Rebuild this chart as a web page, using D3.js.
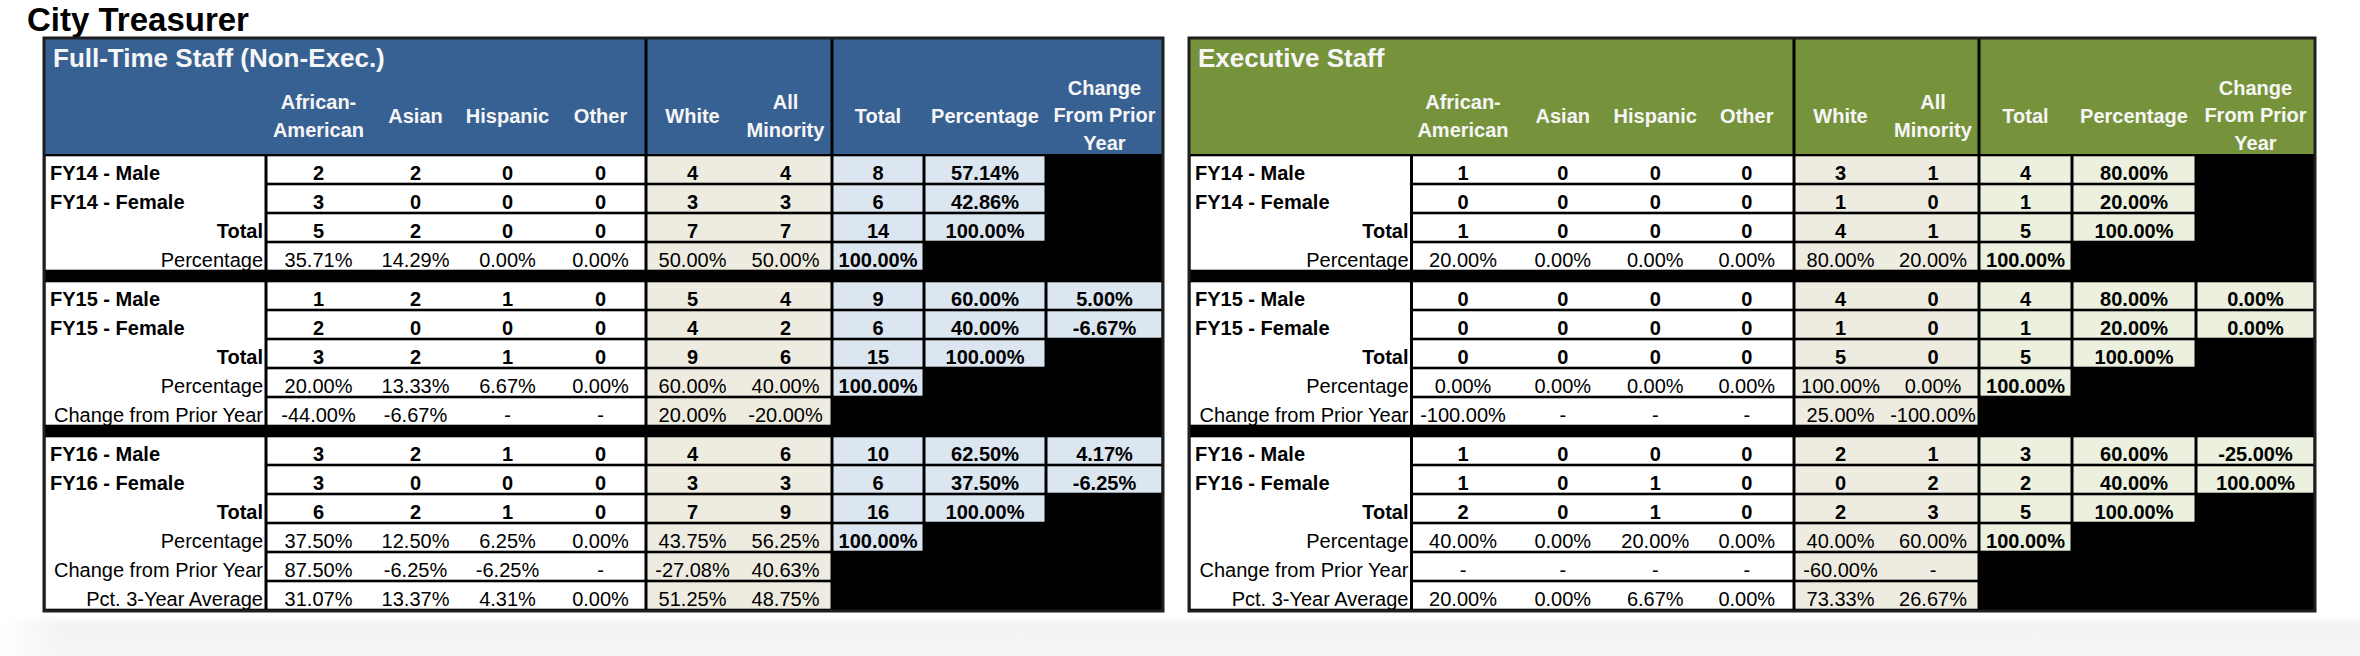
<!DOCTYPE html>
<html><head><meta charset="utf-8">
<script src="https://cdn.jsdelivr.net/npm/d3@7"></script>
<style>
html,body{margin:0;padding:0;background:#fff}
svg{display:block;font-family:"Liberation Sans",Arial,Helvetica,sans-serif}
</style>
</head><body>
<svg id="chart" width="2360" height="656"></svg>
<script>
// ---------- DATA ----------
const pageTitle = "City Treasurer";
const tableTitles = ["Full-Time Staff (Non-Exec.)", "Executive Staff"];
const columnHeaders = [["African-","American"],["Asian"],["Hispanic"],["Other"],["White"],["All","Minority"],["Total"],["Percentage"],["Change","From Prior","Year"]];
const columnSegments = [0,0,0,0,1,1,2,3,4];
const rowLabels = ["FY14 - Male","FY14 - Female","Total","Percentage",
  "FY15 - Male","FY15 - Female","Total","Percentage","Change from Prior Year",
  "FY16 - Male","FY16 - Female","Total","Percentage","Change from Prior Year","Pct. 3-Year Average"];
const rowGroups = [0,0,0,0,1,1,1,1,1,2,2,2,2,2,2];
const rowKinds = ["count","count","total","pct","count","count","total","pct","change","count","count","total","pct","change","avg"];

const fullTimeValues = [
  ["2","2","0","0","4","4","8","57.14%",""],
  ["3","0","0","0","3","3","6","42.86%",""],
  ["5","2","0","0","7","7","14","100.00%",""],
  ["35.71%","14.29%","0.00%","0.00%","50.00%","50.00%","100.00%","",""],
  ["1","2","1","0","5","4","9","60.00%","5.00%"],
  ["2","0","0","0","4","2","6","40.00%","-6.67%"],
  ["3","2","1","0","9","6","15","100.00%",""],
  ["20.00%","13.33%","6.67%","0.00%","60.00%","40.00%","100.00%","",""],
  ["-44.00%","-6.67%","-","-","20.00%","-20.00%","","",""],
  ["3","2","1","0","4","6","10","62.50%","4.17%"],
  ["3","0","0","0","3","3","6","37.50%","-6.25%"],
  ["6","2","1","0","7","9","16","100.00%",""],
  ["37.50%","12.50%","6.25%","0.00%","43.75%","56.25%","100.00%","",""],
  ["87.50%","-6.25%","-6.25%","-","-27.08%","40.63%","","",""],
  ["31.07%","13.37%","4.31%","0.00%","51.25%","48.75%","","",""]
];
const executiveValues = [
  ["1","0","0","0","3","1","4","80.00%",""],
  ["0","0","0","0","1","0","1","20.00%",""],
  ["1","0","0","0","4","1","5","100.00%",""],
  ["20.00%","0.00%","0.00%","0.00%","80.00%","20.00%","100.00%","",""],
  ["0","0","0","0","4","0","4","80.00%","0.00%"],
  ["0","0","0","0","1","0","1","20.00%","0.00%"],
  ["0","0","0","0","5","0","5","100.00%",""],
  ["0.00%","0.00%","0.00%","0.00%","100.00%","0.00%","100.00%","",""],
  ["-100.00%","-","-","-","25.00%","-100.00%","","",""],
  ["1","0","0","0","2","1","3","60.00%","-25.00%"],
  ["1","0","1","0","0","2","2","40.00%","100.00%"],
  ["2","0","1","0","2","3","5","100.00%",""],
  ["40.00%","0.00%","20.00%","0.00%","40.00%","60.00%","100.00%","",""],
  ["-","-","-","-","-60.00%","-","","",""],
  ["20.00%","0.00%","6.67%","0.00%","73.33%","26.67%","","",""]
];

// ---------- LAYOUT / STYLE ----------
const tables = [
  {title: tableTitles[0], values: fullTimeValues, x0: 44,
   widths: [222,105,89,95,91,93,93,92,122,117],
   header: "#386193", light: "#DCE6F1"},
  {title: tableTitles[1], values: executiveValues, x0: 1189,
   widths: [222.5,103,96.5,88.5,94.5,93,92,93,124,119],
   header: "#76933C", light: "#EBF1DE"}
];
const segFill = (t, s) => s === 0 ? "#FFFFFF" : s === 1 ? "#EEECE1" : t.light;

const tableTop = 38, headerBottom = 154, bodyBottom = 610;
const sepUnits = 10 / 29;
const rowPos = i => i + rowGroups[i] * sepUnits;
const y = d3.scaleLinear().domain([0, rowLabels.length + 2 * sepUnits]).range([headerBottom + 1, bodyBottom]);

const svg = d3.select("#chart");

// bottom shadow band
const defs = svg.append("defs");
const g1 = defs.append("linearGradient").attr("id","band").attr("x1",0).attr("y1",0).attr("x2",0).attr("y2",1);
g1.append("stop").attr("offset","0%").attr("stop-color","#ffffff");
g1.append("stop").attr("offset","25%").attr("stop-color","#f3f3f3");
g1.append("stop").attr("offset","100%").attr("stop-color","#f5f5f5");
const g2 = defs.append("linearGradient").attr("id","bandL").attr("x1",0).attr("y1",0).attr("x2",1).attr("y2",0);
g2.append("stop").attr("offset","0%").attr("stop-color","#ffffff").attr("stop-opacity",1);
g2.append("stop").attr("offset","100%").attr("stop-color","#ffffff").attr("stop-opacity",0);
svg.append("rect").attr("x",0).attr("y",614).attr("width",2360).attr("height",42).attr("fill","url(#band)");
svg.append("rect").attr("x",0).attr("y",614).attr("width",60).attr("height",42).attr("fill","url(#bandL)");

svg.append("text").attr("x",27).attr("y",31).attr("font-size",33).attr("font-weight","bold")
  .attr("fill","#000").text(pageTitle);

tables.forEach(t => {
  const starts = Array.from(d3.cumsum([0, ...t.widths]), v => t.x0 + v);
  const W = d3.sum(t.widths);
  const colIdx = d3.range(columnHeaders.length);
  const xL = d3.scaleOrdinal(colIdx, colIdx.map(c => starts[c + 1]));
  const xR = d3.scaleOrdinal(colIdx, colIdx.map(c => starts[c + 2]));
  const xC = c => (xL(c) + xR(c)) / 2;
  const g = svg.append("g");

  // header
  g.append("rect").attr("x",t.x0).attr("y",tableTop).attr("width",W).attr("height",headerBottom-tableTop).attr("fill",t.header);
  // body black background
  g.append("rect").attr("x",t.x0).attr("y",headerBottom).attr("width",W).attr("height",bodyBottom-headerBottom+1).attr("fill","#000");
  // header vertical separators
  [4, 6].forEach(c => {
    g.append("rect").attr("x", xL(c) - 1.5).attr("y", tableTop).attr("width", 3).attr("height", headerBottom - tableTop).attr("fill", "#000");
  });
  // header title
  g.append("text").attr("x", t.x0 + 9).attr("y", 67).attr("font-size", 26).attr("font-weight","bold")
    .attr("fill","#f6f6f6").text(t.title);
  // column headers
  const baseByLines = {1:[123],2:[109,137],3:[95,122,150]};
  columnHeaders.forEach((lines, c) => {
    lines.forEach((ln, k) => {
      g.append("text").attr("x", xC(c)).attr("y", baseByLines[lines.length][k]).attr("text-anchor","middle")
        .attr("font-size",20).attr("font-weight","bold").attr("fill","#f6f6f6").text(ln);
    });
  });

  // label column white blocks per group
  const groups = d3.groups(d3.range(rowLabels.length), i => rowGroups[i]);
  groups.forEach(([gi, idx]) => {
    const y0 = y(rowPos(idx[0])), y1 = y(rowPos(idx[idx.length-1]) + 1);
    g.append("rect").attr("x", t.x0 + 1.5).attr("y", y0 + 1.3).attr("width", t.widths[0] - 3)
      .attr("height", y1 - y0 - 2.6).attr("fill","#fff");
  });

  // cells
  rowLabels.forEach((lab, i) => {
    const ry = y(rowPos(i)), rh = y(rowPos(i) + 1) - ry;
    const vals = t.values[i];
    const kind = rowKinds[i];
    d3.groups(colIdx, c => columnSegments[c]).forEach(([s, cols]) => {
      if (!cols.some(c => vals[c] !== "")) return;
      const sx = xL(cols[0]), ex = xR(cols[cols.length - 1]);
      g.append("rect").attr("x", sx + 1.5).attr("y", ry + 1.3).attr("width", ex - sx - 3)
        .attr("height", rh - 2.6).attr("fill", segFill(t, s));
    });
    colIdx.forEach(c => {
      if (vals[c] === "") return;
      const bold = kind === "count" || kind === "total" || columnSegments[c] >= 2;
      g.append("text").attr("x", xC(c)).attr("y", ry + 24.5).attr("text-anchor","middle")
        .attr("font-size", 20).attr("font-weight", bold ? "bold" : "normal").attr("fill","#000").text(vals[c]);
    });
    const left = kind === "count";
    g.append("text").attr("x", left ? t.x0 + 6 : t.x0 + t.widths[0] - 3)
      .attr("y", ry + 24.5).attr("text-anchor", left ? "start" : "end")
      .attr("font-size", 20).attr("font-weight", (kind === "count" || kind === "total") ? "bold" : "normal")
      .attr("fill","#000").text(lab);
  });

  // outer border
  g.append("rect").attr("x", t.x0).attr("y", tableTop).attr("width", W).attr("height", bodyBottom - tableTop + 1)
    .attr("fill","none").attr("stroke","#1e1e1e").attr("stroke-width",3);
});
</script>
</body></html>
